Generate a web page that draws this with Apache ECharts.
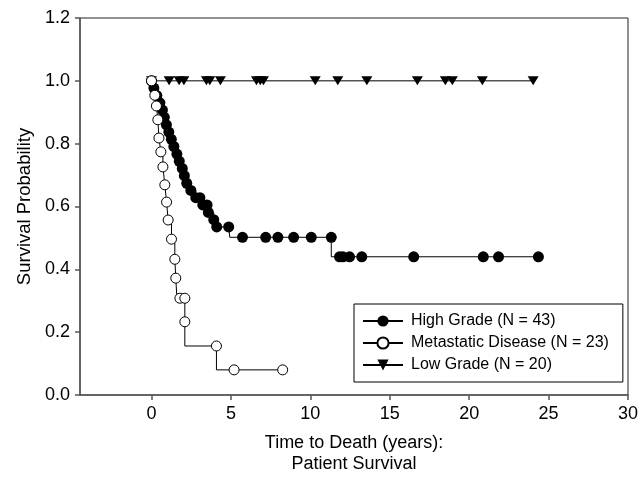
<!DOCTYPE html>
<html>
<head>
<meta charset="utf-8">
<script src="https://cdn.jsdelivr.net/npm/echarts@6/dist/echarts.min.js"></script>
<style>
html,body{margin:0;padding:0;background:#fff;}
#chart{width:641px;height:483px;}
</style>
</head>
<body>
<div id="chart"></div>
<script>
// ---- Data ----
const seriesNames = ['High Grade (N = 43)', 'Metastatic Disease (N = 23)', 'Low Grade (N = 20)'];

// High grade: step curve (time, survival) and symbol positions
const hgStepT = [0, 0.15, 0.34, 0.53, 0.69, 0.81, 0.94, 1.09, 1.25, 1.41, 1.60, 1.75, 1.94, 2.07, 2.22, 2.48, 2.79, 3.23, 3.58, 3.92, 4.11, 4.93, 11.32, 24.36];
const hgStepS = [1.0, 0.977, 0.953, 0.930, 0.907, 0.884, 0.860, 0.837, 0.814, 0.791, 0.767, 0.744, 0.721, 0.698, 0.674, 0.651, 0.628, 0.605, 0.581, 0.558, 0.535, 0.502, 0.440, 0.440];
const hgMarkT = [0, 0.15, 0.34, 0.53, 0.69, 0.81, 0.94, 1.09, 1.25, 1.41, 1.60, 1.75, 1.94, 2.07, 2.22, 2.48, 2.79, 3.05, 3.23, 3.50, 3.58, 3.92, 4.11, 4.86, 5.73, 7.19, 7.96, 8.95, 10.06, 11.32, 11.84, 12.05, 12.47, 13.24, 16.51, 20.89, 21.85, 24.36];
const hgMarkS = [1.0, 0.977, 0.953, 0.930, 0.907, 0.884, 0.860, 0.837, 0.814, 0.791, 0.767, 0.744, 0.721, 0.698, 0.674, 0.651, 0.628, 0.628, 0.605, 0.605, 0.581, 0.558, 0.535, 0.535, 0.502, 0.502, 0.502, 0.502, 0.502, 0.502, 0.440, 0.440, 0.440, 0.440, 0.440, 0.440, 0.440, 0.440];

// Metastatic disease
const mdStepT = [0, 0.21, 0.31, 0.40, 0.47, 0.59, 0.72, 0.84, 0.95, 1.05, 1.26, 1.47, 1.53, 1.60, 2.10, 2.10, 4.09, 8.26];
const mdStepS = [1.0, 0.954, 0.920, 0.876, 0.818, 0.774, 0.726, 0.669, 0.614, 0.557, 0.496, 0.432, 0.372, 0.308, 0.233, 0.156, 0.080, 0.080];
const mdMarkT = [0, 0.21, 0.31, 0.40, 0.47, 0.59, 0.72, 0.84, 0.95, 1.05, 1.26, 1.47, 1.53, 1.79, 2.10, 2.10, 4.09, 5.20, 8.26];
const mdMarkS = [1.0, 0.954, 0.920, 0.876, 0.818, 0.774, 0.726, 0.669, 0.614, 0.557, 0.496, 0.432, 0.372, 0.308, 0.308, 0.233, 0.156, 0.080, 0.080];

// Low grade (no events)
const lgStepT = [0, 24.03];
const lgStepS = [1.0, 1.0];
const lgMarkT = [0, 1.11, 1.74, 2.04, 3.46, 3.67, 4.34, 6.61, 6.85, 7.05, 10.31, 11.73, 13.56, 16.74, 18.50, 18.94, 20.83, 24.03];
const lgMarkS = [1.0, 1.0, 1.0, 1.0, 1.0, 1.0, 1.0, 1.0, 1.0, 1.0, 1.0, 1.0, 1.0, 1.0, 1.0, 1.0, 1.0, 1.0];

const xTicks = [0, 5, 10, 15, 20, 25, 30];

// ---- Build ----
function merge(stepT, stepS, markT, markS) {
  const pts = [];
  stepT.forEach((t, i) => pts.push({ t: t, s: stepS[i], m: false }));
  markT.forEach((t, i) => pts.push({ t: t, s: markS[i], m: true }));
  pts.sort((a, b) => (a.t - b.t) || (b.s - a.s) || ((a.m ? 1 : 0) - (b.m ? 1 : 0)));
  return pts.map(p => p.m ? { value: [p.t, p.s] } : { value: [p.t, p.s], symbol: 'none' });
}

const FONT = 'Liberation Sans, Arial, sans-serif';
const triDown = 'path://M0,0 L12,0 L6,10 Z';

const chart = echarts.init(document.getElementById('chart'), null, { renderer: 'canvas' });
chart.setOption({
  animation: false,
  backgroundColor: '#fff',
  grid: {
    left: 80, right: 12, top: 18, bottom: 88,
    show: true, borderColor: '#222', borderWidth: 1, backgroundColor: 'transparent'
  },
  legend: {
    orient: 'vertical',
    left: 354, top: 304,
    padding: [9, 14, 9, 8],
    itemGap: 6,
    itemWidth: 40,
    itemHeight: 14,
    borderColor: '#000',
    borderWidth: 1,
    backgroundColor: '#fff',
    textStyle: { fontFamily: FONT, fontSize: 16, color: '#000', padding: [0, 0, 0, 3] },
    data: seriesNames
  },
  xAxis: {
    type: 'value',
    min: -4.5, max: 30,
    axisLine: { show: true, onZero: false, lineStyle: { color: '#555', width: 1.5 } },
    axisTick: { show: true, inside: false, length: 5, customValues: xTicks, lineStyle: { color: '#555', width: 1.5 } },
    axisLabel: { customValues: xTicks, fontFamily: FONT, fontSize: 18, color: '#000', margin: 10 },
    splitLine: { show: false },
    name: 'Time to Death (years):\nPatient Survival',
    nameLocation: 'middle',
    nameGap: 38,
    nameTextStyle: { fontFamily: FONT, fontSize: 18, color: '#000', lineHeight: 21, verticalAlign: 'top' }
  },
  yAxis: {
    type: 'value',
    min: 0, max: 1.2, interval: 0.2,
    axisLine: { show: true, onZero: false, lineStyle: { color: '#555', width: 1.5 } },
    axisTick: { show: true, inside: false, length: 5, lineStyle: { color: '#555', width: 1.5 } },
    axisLabel: { fontFamily: FONT, fontSize: 18, color: '#000', margin: 10, formatter: v => v.toFixed(1) },
    splitLine: { show: false },
    name: 'Survival Probability',
    nameLocation: 'middle',
    nameGap: 44,
    nameTextStyle: { fontFamily: FONT, fontSize: 18.5, color: '#000' }
  },
  series: [
    {
      name: seriesNames[2], type: 'line', step: 'end',
      data: merge(lgStepT, lgStepS, lgMarkT, lgMarkS),
      symbol: triDown, symbolSize: [11, 9], showAllSymbol: true,
      lineStyle: { color: '#000', width: 1 },
      itemStyle: { color: '#000' }, z: 3
    },
    {
      name: seriesNames[0], type: 'line', step: 'end',
      data: merge(hgStepT, hgStepS, hgMarkT, hgMarkS),
      symbol: 'circle', symbolSize: 11, showAllSymbol: true,
      lineStyle: { color: '#000', width: 1 },
      itemStyle: { color: '#000', borderColor: '#000', borderWidth: 0 }, z: 4
    },
    {
      name: seriesNames[1], type: 'line', step: 'end',
      data: merge(mdStepT, mdStepS, mdMarkT, mdMarkS),
      symbol: 'circle', symbolSize: 10, showAllSymbol: true,
      lineStyle: { color: '#000', width: 1 },
      itemStyle: { color: '#fff', borderColor: '#000', borderWidth: 1 }, z: 5
    }
  ]
});
</script>
</body>
</html>
